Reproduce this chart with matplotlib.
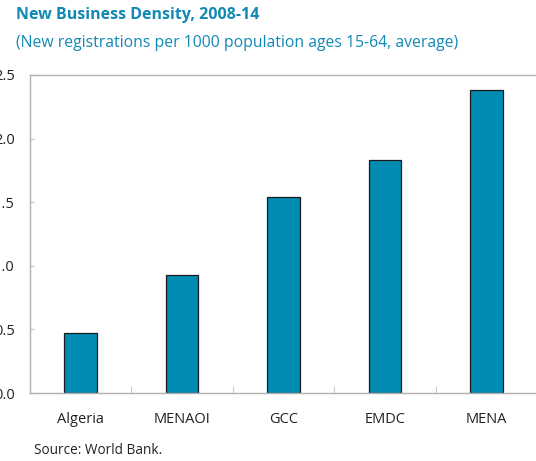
import matplotlib
matplotlib.use("Agg")
import matplotlib.pyplot as plt
import numpy as np

# data
regions = ["Algeria", "MENAOI", "GCC", "EMDC", "MENA"]
density = [0.47, 0.93, 1.54, 1.83, 2.38]
yticks = [0.0, 0.5, 1.0, 1.5, 2.0, 2.5]

plt.rcParams["font.family"] = ["Open Sans", "DejaVu Sans"]

fig = plt.figure(figsize=(5.36, 4.61), dpi=100)
ax = fig.add_axes([30 / 536, 68 / 461, 507 / 536, 318 / 461])

x = np.arange(len(regions))
ax.bar(x, density, width=0.32, color="#008bb3", edgecolor="#1a1a1a", linewidth=0.9)

ax.set_xlim(-0.5, len(regions) - 0.5)
ax.set_ylim(0, 2.5)
ax.set_yticks(yticks)
ax.set_yticklabels([f"{v:.1f}" for v in yticks])
ax.set_xticks(x)
ax.set_xticklabels(regions)
ax.set_xticks(np.arange(len(regions) - 1) + 0.5, minor=True)

for s in ax.spines.values():
    s.set_color("#b0b0b0")
    s.set_linewidth(1.0)

# the left edge of the y labels is clipped in the original too
ax.tick_params(axis="y", direction="in", length=3, color="#c0c0c0", pad=11,
               labelsize=10.5, labelcolor="#222222")
ax.tick_params(axis="x", which="major", length=0, pad=14,
               labelsize=10.5, labelcolor="#222222")
ax.tick_params(axis="x", which="minor", direction="in", length=5, color="#c0c0c0")

fig.text(16 / 536, 1 - 15 / 461, "New Business Density, 2008-14", fontsize=11.5,
         fontweight="bold", color="#1289b5", va="center", ha="left")
fig.text(16 / 536, 1 - 43 / 461,
         "(New registrations per 1000 population ages 15-64, average)",
         fontsize=11.3, color="#1289b5", va="center", ha="left")
fig.text(34 / 536, 1 - 450 / 461, "Source: World Bank.", fontsize=9.8,
         color="#222222", va="center", ha="left")

fig.savefig("out.png", dpi=100)
